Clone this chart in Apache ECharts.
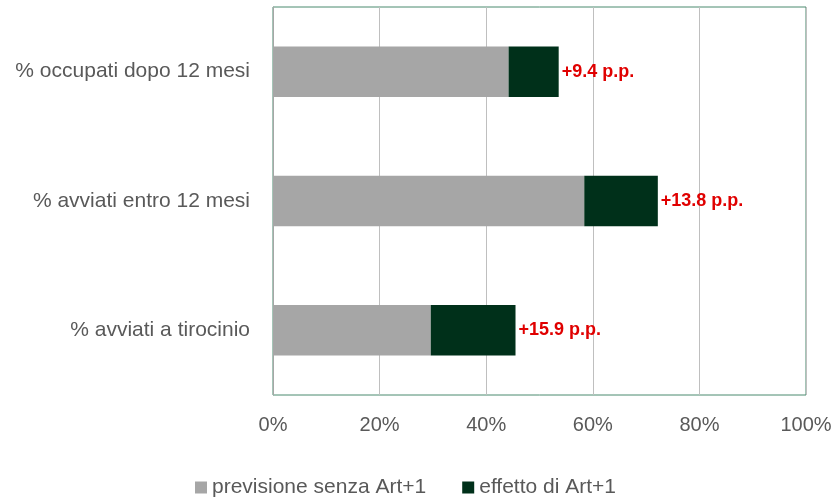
<!DOCTYPE html>
<html>
<head>
<meta charset="utf-8">
<script src="https://cdn.jsdelivr.net/npm/echarts@6/dist/echarts.min.js"></script>
<style>
  html, body { margin: 0; padding: 0; background: #fff; }
  #chart { width: 837px; height: 497px; }
</style>
</head>
<body>
<div id="chart"></div>
<script>
const categories = ['% avviati a tirocinio', '% avviati entro 12 mesi', '% occupati dopo 12 mesi'];
const baseline = [29.6, 58.4, 44.2];
const effect = [15.9, 13.8, 9.4];
const xTicks = [0, 20, 40, 60, 80, 100];

const chart = echarts.init(document.getElementById('chart'));
const font = 'Liberation Sans, Arial, sans-serif';

chart.setOption({
  animation: false,
  grid: {
    left: 273, right: 31, top: 7, bottom: 102,
    show: true, borderColor: '#4a8a6e', borderWidth: 1
  },
  legend: {
    top: 472,
    left: 190,
    itemWidth: 12, itemHeight: 12, itemGap: 36,
    icon: 'rect',
    textStyle: { color: '#595959', fontSize: 21, fontFamily: font },
    data: ['previsione senza Art+1', 'effetto di Art+1']
  },
  xAxis: {
    type: 'value',
    min: xTicks[0], max: xTicks[xTicks.length - 1], interval: 20,
    axisLine: { show: false },
    axisTick: { show: false },
    axisLabel: {
      color: '#595959', fontSize: 20, fontFamily: font, margin: 20,
      formatter: v => v + '%'
    },
    splitLine: { lineStyle: { color: '#bfbfbf', width: 1 } }
  },
  yAxis: {
    type: 'category',
    data: categories,
    axisLine: { lineStyle: { color: '#a6a6a6', width: 1 } },
    axisTick: { show: false },
    axisLabel: { color: '#595959', fontSize: 21, fontFamily: font, margin: 23 }
  },
  series: [
    {
      name: 'previsione senza Art+1',
      type: 'bar',
      stack: 'tot',
      barWidth: '39%',
      itemStyle: { color: '#a6a6a6' },
      data: baseline
    },
    {
      name: 'effetto di Art+1',
      type: 'bar',
      stack: 'tot',
      itemStyle: { color: '#00301a' },
      label: {
        show: true,
        position: 'right',
        distance: 3,
        color: '#e00000',
        fontWeight: 'bold',
        fontSize: 18,
        fontFamily: font,
        formatter: p => '+' + effect[p.dataIndex].toFixed(1) + ' p.p.'
      },
      data: effect
    }
  ]
});
</script>
</body>
</html>
